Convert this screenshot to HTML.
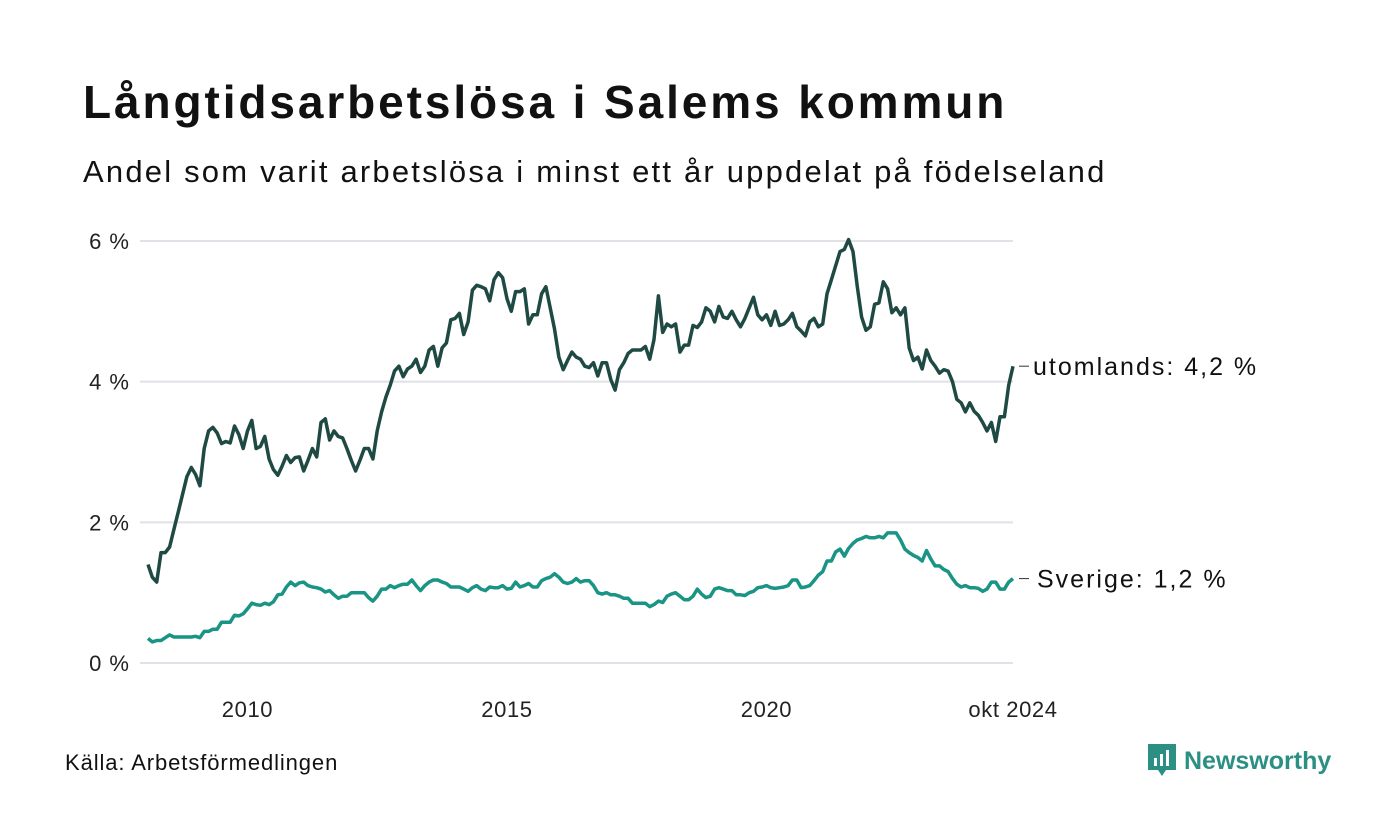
<!DOCTYPE html>
<html><head><meta charset="utf-8">
<style>
body{margin:0;background:#fff;width:1400px;height:840px;overflow:hidden;font-family:"Liberation Sans",sans-serif;color:#111;}
#title{position:absolute;left:83px;top:75px;font-size:46px;font-weight:bold;margin:0;letter-spacing:2.9px}
#sub{position:absolute;left:83px;top:154px;font-size:31px;margin:0;letter-spacing:2.2px}
#src{position:absolute;left:65px;top:750px;font-size:22px;letter-spacing:0.9px}
#logo{position:absolute;left:1148px;top:744px;display:flex;align-items:center;gap:8px;color:#2b8f84;font-size:25px;font-weight:bold}
svg{position:absolute;left:0;top:0}
</style></head><body>
<h1 id="title">Långtidsarbetslösa i Salems kommun</h1>
<p id="sub">Andel som varit arbetslösa i minst ett år uppdelat på födelseland</p>
<div id="src">Källa: Arbetsförmedlingen</div>
<div id="logo">
<svg width="28" height="34" viewBox="0 0 28 34" style="position:static"><path d="M0 0h28v26H18l-4 6-4-6H0z" fill="#2b8f84"/><rect x="6" y="14" width="3" height="8" fill="#fff"/><rect x="12" y="10" width="3" height="12" fill="#fff"/><rect x="18" y="6" width="3" height="16" fill="#fff"/></svg>
<span>Newsworthy</span></div>
<svg id="chart" width="1400" height="840"></svg>
<script>
const yTicks=[0,2,4,6];
const xTickLabels=["2010","2015","2020","okt 2024"];
const xTickMonths=[23,83,143,200];
const utomlands=[1.40,1.22,1.15,1.57,1.57,1.65,1.90,2.15,2.40,2.65,2.78,2.68,2.52,3.05,3.30,3.35,3.27,3.12,3.15,3.13,3.37,3.25,3.05,3.30,3.45,3.05,3.08,3.22,2.90,2.75,2.67,2.80,2.95,2.85,2.92,2.93,2.73,2.88,3.05,2.93,3.42,3.47,3.17,3.30,3.22,3.20,3.05,2.88,2.73,2.88,3.05,3.05,2.90,3.30,3.57,3.78,3.95,4.15,4.22,4.07,4.18,4.22,4.32,4.13,4.22,4.45,4.50,4.22,4.48,4.55,4.88,4.90,4.97,4.67,4.85,5.30,5.37,5.35,5.32,5.15,5.45,5.55,5.48,5.18,5.00,5.28,5.28,5.32,4.82,4.95,4.95,5.25,5.35,5.05,4.75,4.35,4.17,4.30,4.42,4.35,4.32,4.22,4.20,4.27,4.08,4.27,4.27,4.03,3.88,4.17,4.27,4.40,4.45,4.45,4.45,4.50,4.32,4.60,5.22,4.70,4.82,4.78,4.82,4.42,4.52,4.52,4.80,4.77,4.85,5.05,5.00,4.85,5.07,4.92,4.90,5.00,4.88,4.78,4.90,5.05,5.20,4.95,4.88,4.95,4.80,5.00,4.80,4.82,4.88,4.97,4.78,4.72,4.65,4.85,4.90,4.78,4.82,5.25,5.45,5.65,5.85,5.88,6.02,5.85,5.35,4.92,4.73,4.78,5.10,5.12,5.42,5.32,4.98,5.05,4.95,5.05,4.48,4.30,4.35,4.18,4.45,4.30,4.22,4.12,4.17,4.15,4.00,3.75,3.70,3.57,3.70,3.58,3.52,3.42,3.30,3.42,3.15,3.50,3.50,3.95,4.22];
const sverige=[0.35,0.30,0.32,0.32,0.36,0.40,0.37,0.37,0.37,0.37,0.37,0.38,0.36,0.45,0.45,0.48,0.48,0.58,0.58,0.58,0.68,0.67,0.70,0.77,0.85,0.83,0.82,0.85,0.83,0.87,0.97,0.98,1.08,1.15,1.10,1.14,1.15,1.10,1.08,1.07,1.05,1.01,1.03,0.97,0.92,0.95,0.95,1.00,1.00,1.00,1.00,0.93,0.88,0.95,1.05,1.05,1.10,1.07,1.10,1.12,1.12,1.18,1.10,1.03,1.10,1.15,1.18,1.18,1.15,1.13,1.08,1.08,1.08,1.05,1.02,1.07,1.10,1.05,1.03,1.08,1.07,1.07,1.10,1.05,1.06,1.15,1.08,1.10,1.13,1.08,1.08,1.17,1.20,1.22,1.27,1.22,1.15,1.13,1.15,1.20,1.15,1.17,1.17,1.10,1.00,0.98,1.00,0.97,0.97,0.95,0.92,0.92,0.85,0.85,0.85,0.85,0.80,0.83,0.88,0.86,0.95,0.98,1.00,0.95,0.90,0.90,0.95,1.05,0.98,0.93,0.95,1.05,1.07,1.05,1.03,1.03,0.97,0.97,0.96,1.00,1.02,1.07,1.08,1.10,1.07,1.06,1.07,1.08,1.10,1.18,1.18,1.07,1.08,1.10,1.17,1.25,1.30,1.45,1.45,1.58,1.62,1.52,1.63,1.70,1.75,1.77,1.80,1.78,1.78,1.80,1.78,1.85,1.85,1.85,1.75,1.62,1.57,1.53,1.50,1.45,1.60,1.48,1.38,1.38,1.33,1.30,1.20,1.12,1.08,1.10,1.07,1.07,1.06,1.02,1.05,1.15,1.15,1.05,1.05,1.15,1.20];
const seriesNames=["utomlands","Sverige"];
const NS="http://www.w3.org/2000/svg";
const svg=document.getElementById('chart');
const X0=148,X1=1013,Y0=663,Y6=241;
const n=utomlands.length;
function xs(i){return X0+(X1-X0)*i/(n-1);}
function ys(v){return Y0+(Y6-Y0)*v/6;}
function mk(t,a){const e=document.createElementNS(NS,t);for(const k in a)e.setAttribute(k,a[k]);svg.appendChild(e);return e;}
yTicks.forEach(v=>{
  const g=mk('line',{x1:140,x2:1013,y1:ys(v),y2:ys(v),stroke:'#e1e1e8','stroke-width':2});
  
  
  const t=mk('text',{x:130,y:ys(v)+8,'text-anchor':'end','font-size':22,fill:'#222','font-family':'Liberation Sans, sans-serif','letter-spacing':1});
  t.textContent=v+' %';
  
  
});
xTickLabels.forEach((l,k)=>{
  const t=mk('text',{x:xs(xTickMonths[k]),y:717,'text-anchor':'middle','font-size':22,fill:'#222','font-family':'Liberation Sans, sans-serif','letter-spacing':0.6});
  t.textContent=l;
  
  
});
function line(data,color,name,label,lx){
  const d=data.map((v,i)=>(i?'L':'M')+xs(i).toFixed(1)+' '+ys(v).toFixed(1)).join('');
  const p=mk('path',{d:d,fill:'none',stroke:color,'stroke-width':3.5,'stroke-linejoin':'round'});
  
  
  const last=data[n-1],y=ys(last);
  const tk=mk('line',{x1:1019,x2:1029,y1:y,y2:y,stroke:'#333','stroke-width':1});
  
  
  const t=mk('text',{x:lx,y:y+9,'font-size':25,fill:'#111','font-family':'Liberation Sans, sans-serif','letter-spacing':2});
  t.textContent=label+': '+last.toFixed(1).replace('.',',')+' %';
  
  
}
line(sverige,'#1a9484','sverige',seriesNames[1],1037);
line(utomlands,'#1f4a44','utomlands',seriesNames[0],1033);
</script>
</body></html>
